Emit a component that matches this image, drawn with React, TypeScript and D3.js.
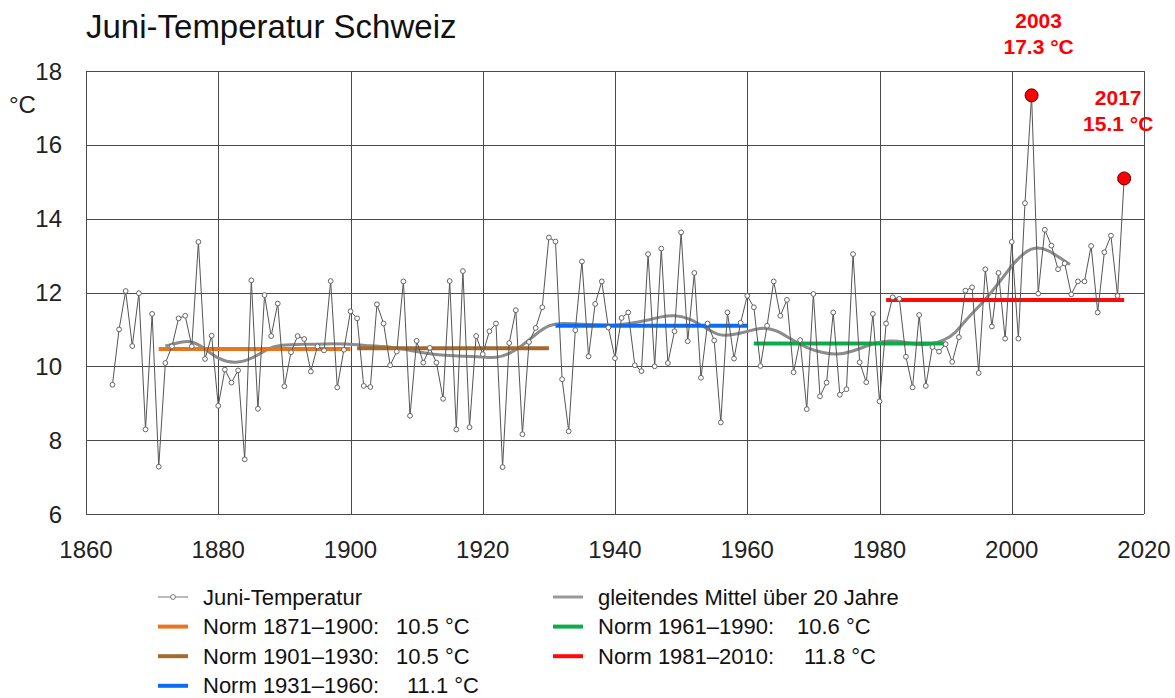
import * as d3 from "d3";
import React, { useEffect, useRef } from "react";

const width = 1175;
const height = 698;
const margin = { left: 86, right: 1144, top: 71, bottom: 514 };
const font = "'Liberation Sans', Arial, sans-serif";

// June temperature per year, 1864-2017
const years = d3.range(1864, 2018);
const temps = [
    9.50, 11.0, 12.04, 10.55, 11.98, 8.29, 11.42, 7.28, 10.09, 10.54,
    11.30, 11.37, 10.54, 13.37, 10.20, 10.83, 8.93, 9.91, 9.56, 9.89,
    7.48, 12.33, 8.85, 11.93, 10.82, 11.70, 9.46, 10.38, 10.82, 10.74,
    9.86, 10.54, 10.43, 12.31, 9.43, 10.45, 11.49, 11.30, 9.47, 9.44,
    11.68, 11.16, 10.03, 10.40, 12.30, 8.66, 10.69, 10.10, 10.50, 10.10,
    9.12, 12.31, 8.29, 12.58, 8.35, 10.82, 10.33, 10.95, 11.16, 7.27,
    10.63, 11.52, 8.16, 10.66, 11.04, 11.60, 13.49, 13.38, 9.65, 8.24,
    10.98, 12.84, 10.27, 11.69, 12.30, 11.05, 10.22, 11.31, 11.46, 10.03,
    9.87, 13.04, 10.00, 13.19, 10.09, 10.95, 13.63, 10.68, 12.53, 9.69,
    11.16, 10.70, 8.48, 11.46, 10.21, 11.18, 11.91, 11.60, 10.01, 11.10,
    12.30, 11.37, 11.80, 9.84, 10.71, 8.84, 11.96, 9.19, 9.56, 11.46,
    9.23, 9.38, 13.04, 10.11, 9.57, 11.42, 9.05, 11.16, 11.87, 11.83,
    10.26, 9.43, 11.39, 9.47, 10.52, 10.40, 10.60, 10.12, 10.79, 12.05,
    12.14, 9.82, 12.63, 11.08, 12.53, 10.75, 13.37, 10.75, 14.42, 17.34,
    11.97, 13.70, 13.27, 12.63, 12.79, 11.95, 12.30, 12.30, 13.26, 11.46,
    13.09, 13.54, 11.91, 15.09,
];

// 20-year moving average
const maYears = [
    1872, 1873.5, 1875.7, 1878, 1880, 1882.7, 1885.3, 1887.5, 1889.3, 1893, 1896, 1900,
    1903, 1906.5, 1911.5, 1916.6, 1920, 1922, 1924, 1926, 1928, 1930, 1932, 1934,
    1937, 1939.5, 1942, 1945, 1947, 1949, 1951.3, 1953.8, 1955.8, 1957.8, 1960,
    1962.4, 1964.4, 1966.4, 1969, 1971.5, 1973.5, 1976, 1979, 1981.6, 1983.6,
    1985.6, 1987.6, 1990, 1991.5, 1993, 1995.5, 1998, 2000, 2002, 2003.8, 2005.5,
    2007, 2008.8,
];
const maValues = [
    10.55, 10.62, 10.72, 10.49, 10.18, 10.07, 10.22, 10.49, 10.58, 10.60, 10.61, 10.61,
    10.55, 10.53, 10.33, 10.27, 10.26, 10.22, 10.33, 10.56, 10.87, 11.13, 11.17, 11.15,
    11.13, 11.10, 11.15, 11.25, 11.35, 11.39, 11.30, 11.03, 10.82, 10.85, 10.94,
    11.07, 10.98, 10.76, 10.49, 10.36, 10.31, 10.40, 10.63, 10.70, 10.67,
    10.58, 10.58, 10.72, 10.90, 11.25, 11.70, 12.24, 12.74, 13.11, 13.24, 13.15,
    12.97, 12.76,
];

// climate norms
const normLabels = ["Norm 1871–1900:", "Norm 1901–1930:", "Norm 1931–1960:", "Norm 1961–1990:", "Norm 1981–2010:"];
const normStart = [1871, 1901, 1931, 1961, 1981];
const normEnd = [1900, 1930, 1960, 1990, 2017];
const normValues = [10.47, 10.49, 11.1, 10.62, 11.8];
const normText = ["10.5 °C", "10.5 °C", "11.1 °C", "10.6 °C", "11.8 °C"];
const normColors = ["#E8761F", "#A36A2E", "#0A6CF5", "#0AAD4A", "#FF0A0A"];

const highlightYears = [2003, 2017];
const xTicks = [1860, 1880, 1900, 1920, 1940, 1960, 1980, 2000, 2020];
const yTicks = [6, 8, 10, 12, 14, 16, 18];

const tempOf = (yr: number) => temps[years.indexOf(yr)];

const App: React.FC = () => {
    const wrapper = useRef<SVGSVGElement>(null);

    useEffect(() => {
        if (!wrapper.current) return;
        const svg = d3.select(wrapper.current);
        svg.selectAll("*").remove();

        const x = d3.scaleLinear().domain([1860, 2020]).range([margin.left, margin.right]);
        const y = d3.scaleLinear().domain([6, 18]).range([margin.bottom, margin.top]);

        svg.append("rect")
            .attr("width", width).attr("height", height).attr("fill", "#fff");

        // grid
        const grid = svg.append("g").attr("stroke", "#4a4a4a").attr("stroke-width", 1);
        grid.selectAll(null).data(xTicks).enter().append("line")
            .attr("x1", (d) => Math.round(x(d)) + 0.5).attr("x2", (d) => Math.round(x(d)) + 0.5)
            .attr("y1", y(18)).attr("y2", y(6));
        grid.selectAll(null).data(yTicks).enter().append("line")
            .attr("y1", (d) => Math.round(y(d)) + 0.5).attr("y2", (d) => Math.round(y(d)) + 0.5)
            .attr("x1", x(1860)).attr("x2", x(2020));

        // tick labels
        svg.append("g").selectAll(null).data(xTicks).enter().append("text")
            .attr("x", (d) => x(d)).attr("y", y(6) + 44)
            .attr("text-anchor", "middle")
            .style("font", `24px ${font}`).attr("fill", "#222")
            .text((d) => d);
        svg.append("g").selectAll(null).data(yTicks).enter().append("text")
            .attr("x", 62).attr("y", (d) => y(d) + 8.5)
            .attr("text-anchor", "end")
            .style("font", `24px ${font}`).attr("fill", "#222")
            .text((d) => d);
        svg.append("text").attr("x", 9).attr("y", 113)
            .style("font", `24px ${font}`).attr("fill", "#222").text("°C");

        svg.append("text").attr("x", 86).attr("y", 38)
            .style("font", `33px ${font}`).attr("fill", "#111").text("Juni-Temperatur Schweiz");

        // moving average
        const ma = d3.line<number>()
            .x((d) => x(d))
            .y((_, i) => y(maValues[i]))
            .curve(d3.curveBasis);
        svg.append("path")
            .attr("d", ma(maYears))
            .attr("fill", "none")
            .attr("stroke", "#8c8c8c")
            .attr("stroke-width", 3);

        // norms
        svg.append("g").selectAll(null).data(normValues).enter().append("line")
            .attr("x1", (_, i) => x(normStart[i])).attr("x2", (_, i) => x(normEnd[i]))
            .attr("y1", (d) => y(d)).attr("y2", (d) => y(d))
            .attr("stroke", (_, i) => normColors[i])
            .attr("stroke-width", 4);

        // yearly series
        const line = d3.line<number>()
            .x((d) => x(d))
            .y((d) => y(tempOf(d)));
        svg.append("path")
            .attr("d", line(years))
            .attr("fill", "none")
            .attr("stroke", "#555")
            .attr("stroke-width", 1);
        svg.append("g").selectAll(null)
            .data(years.filter((d) => !highlightYears.includes(d)))
            .enter().append("circle")
            .attr("cx", (d) => x(d))
            .attr("cy", (d) => y(tempOf(d)))
            .attr("r", 2.4)
            .attr("fill", "#fff")
            .attr("stroke", "#666")
            .attr("stroke-width", 1);
        svg.append("g").selectAll(null).data(highlightYears).enter().append("circle")
            .attr("cx", (d) => x(d))
            .attr("cy", (d) => y(tempOf(d)))
            .attr("r", 6.5)
            .attr("fill", "#f00")
            .attr("stroke", "#600")
            .attr("stroke-width", 1);

        // annotations
        const notes = svg.append("g").selectAll(null).data(highlightYears).enter().append("g")
            .attr("transform", (d, i) => i === 0 ? `translate(${x(d) + 7},28)` : `translate(${x(d) - 6},105)`);
        notes.append("text")
            .attr("text-anchor", "middle")
            .style("font", `bold 21px ${font}`).attr("fill", "#f00")
            .text((d) => d);
        notes.append("text")
            .attr("y", 26)
            .attr("text-anchor", "middle")
            .style("font", `bold 21px ${font}`).attr("fill", "#f00")
            .text((d) => `${tempOf(d).toFixed(1)} °C`);

        // legend
        const legend = svg.append("g").style("font", `22px ${font}`).attr("fill", "#111");
        const rowY = (i: number) => 597 + i * 29.6;
        const legendItems = [
            { col: 0, row: 0, kind: "data" },
            { col: 1, row: 0, kind: "ma" },
            { col: 0, row: 1, kind: 0 },
            { col: 0, row: 2, kind: 1 },
            { col: 0, row: 3, kind: 2 },
            { col: 1, row: 1, kind: 3 },
            { col: 1, row: 2, kind: 4 },
        ];
        const colX = [158, 553];
        const textX = [203, 598];
        const valueX = [[396, 396, 407], [797, 804]];
        legendItems.forEach((item) => {
            const cy = rowY(item.row);
            const sx = colX[item.col];
            if (item.kind === "data") {
                legend.append("line").attr("x1", sx).attr("x2", sx + 30).attr("y1", cy).attr("y2", cy)
                    .attr("stroke", "#777").attr("stroke-width", 1);
                legend.append("circle").attr("cx", sx + 15).attr("cy", cy).attr("r", 2.4)
                    .attr("fill", "#fff").attr("stroke", "#777");
                legend.append("text").attr("x", textX[item.col]).attr("y", cy + 7.5).text("Juni-Temperatur");
            } else if (item.kind === "ma") {
                legend.append("line").attr("x1", sx).attr("x2", sx + 30).attr("y1", cy).attr("y2", cy)
                    .attr("stroke", "#999").attr("stroke-width", 3);
                legend.append("text").attr("x", textX[item.col]).attr("y", cy + 7.5).text("gleitendes Mittel über 20 Jahre");
            } else {
                const k = item.kind as number;
                legend.append("line").attr("x1", sx).attr("x2", sx + 30).attr("y1", cy).attr("y2", cy)
                    .attr("stroke", normColors[k]).attr("stroke-width", 4);
                legend.append("text").attr("x", textX[item.col]).attr("y", cy + 7.5).text(normLabels[k]);
                const vx = item.col === 0 ? valueX[0][item.row - 1] : valueX[1][item.row - 1];
                legend.append("text").attr("x", vx).attr("y", cy + 7.5).text(normText[k]);
            }
        });
    }, []);

    return (
        <svg
            ref={wrapper}
            width={width}
            height={height}
            viewBox={`0 0 ${width} ${height}`}
            style={{ position: "absolute", left: 0, top: 0 }}
        />
    );
};

export default App;
